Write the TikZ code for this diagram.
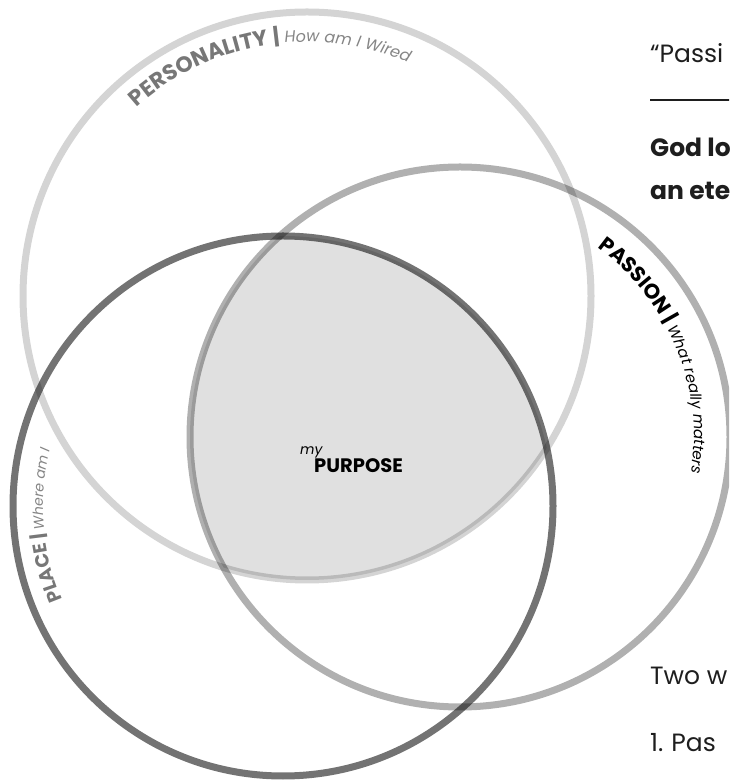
\documentclass[tikz,border=0pt]{standalone}
\usepackage{fontspec}
\setmainfont{Poppins}
\usetikzlibrary{decorations.text}

\definecolor{inkdark}{HTML}{1E1E1E}
\definecolor{labelgray}{HTML}{777777}
\definecolor{handgray}{HTML}{858585}

\newcommand{\heavy}[1]{\fontsize{#1}{#1}\selectfont\bfseries}
\newcommand{\hand}[1]{\fontsize{#1}{#1}\selectfont\itshape}

\begin{document}
\begin{tikzpicture}[x=1pt,y=1pt]
	\tikzstyle{every node}+=[inner sep=0pt]
	\tikzstyle{ring}=[line width=7pt,draw=black]
	\tikzstyle{arclabel}=[decorate,decoration={text along path,text format delimiters={[}{]},text align=left}]
	\tikzstyle{pagetext}=[anchor=base west,text=inkdark]

	\path[use as bounding box] (0,0) rectangle (729,782);
	\clip (0,0) rectangle (729,782);

	\coordinate (pers) at (307,486);
	\coordinate (pass) at (460,345);
	\coordinate (plac) at (283,276);

	% shared part of the three circles
	\begin{scope}
		\clip (pers) circle[radius=284];
		\clip (pass) circle[radius=270];
		\fill[black,fill opacity=0.12] (plac) circle[radius=270];
	\end{scope}

	\draw[ring,draw opacity=0.17] (pers) circle[radius=284];
	\draw[ring,draw opacity=0.31] (pass) circle[radius=270];
	\draw[ring,draw opacity=0.55] (plac) circle[radius=270];

	% labels round the circles
	\path[arclabel,decoration={text={[\color{labelgray}\heavy{22}]PERSONALITY [\color{labelgray}\heavy{22}]| [\color{handgray}\hand{16}]How am I Wired}}]
		([shift={(132:254)}]pers) arc[start angle=132,end angle=50,radius=254];
	\path[arclabel,decoration={text={[\color{black}\heavy{21}]PASSION [\color{black}\heavy{21}]| [\color{black}\hand{15}]What really matters}}]
		([shift={(54:234)}]pass) arc[start angle=54,end angle=-30,radius=234];
	\path[arclabel,decoration={text={[\color{labelgray}\heavy{19}]PLACE [\color{labelgray}\heavy{19}]| [\color{handgray}\hand{14}]Where am I}}]
		([shift={(203:240)}]plac) arc[start angle=203,end angle=140,radius=240];

	\node[anchor=base west,font=\hand{14}] (my) at (300,327) {my};
	\node[anchor=base west,font=\heavy{19.5}] (purpose) at (314,309) {PURPOSE};

	% text of the page beside it
	\node[pagetext,font=\fontsize{25}{25}\selectfont] (quote) at (650,719) {“Passi};
	\coordinate (ruleL) at (650,682);
	\coordinate (ruleR) at (735,682);
	\draw[line width=1.3pt,inkdark] (ruleL) -- (ruleR);
	\node[pagetext,font=\heavy{25}] (god) at (650,625) {God lo};
	\node[pagetext,font=\heavy{25}] (eter) at (650,582) {an ete};
	\node[pagetext,font=\fontsize{25}{25}\selectfont] (two) at (650,97) {Two w};
	\node[pagetext,font=\fontsize{25}{25}\selectfont] (one) at (650,30) {1.\hspace{8pt}Pas};
\end{tikzpicture}
\end{document}
